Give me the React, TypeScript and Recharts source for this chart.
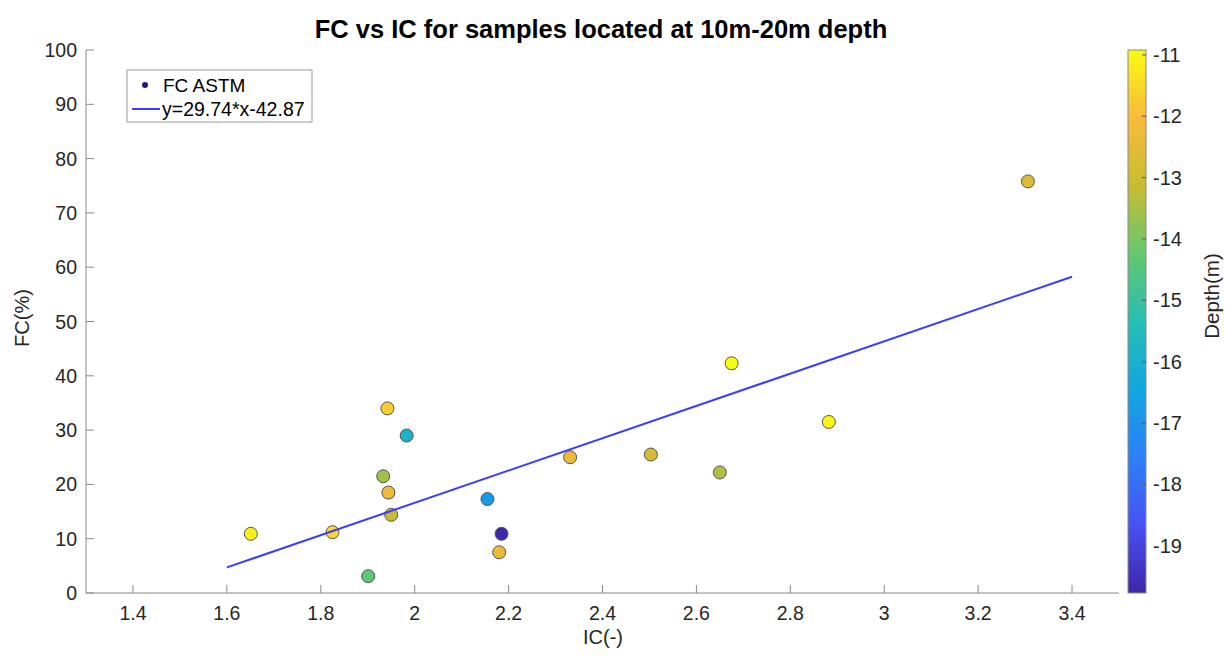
import { ScatterChart, Scatter, XAxis, YAxis } from 'recharts';

// samples: IC, FC and depth
const icValues = [1.651, 1.825, 1.901, 1.933, 1.942, 1.944, 1.95, 1.983, 2.155, 2.185, 2.18, 2.331, 2.503, 2.65, 2.675, 2.882, 3.306];
const fcValues = [10.9, 11.2, 3.1, 21.5, 34.0, 18.5, 14.4, 29.0, 17.3, 10.9, 7.5, 25.0, 25.5, 22.2, 42.3, 31.5, 75.8];
const depthValues = [-11.1, -11.5, -14.4, -13.6, -11.7, -12.3, -13.1, -15.9, -16.8, -19.77, -12.3, -12.3, -12.8, -13.4, -10.92, -11.0, -12.7];

// fitted line y=29.74*x-42.87, end points
const fitX = [1.6, 3.4];
const fitY = [4.71, 58.25];

const xTicks = [1.4, 1.6, 1.8, 2, 2.2, 2.4, 2.6, 2.8, 3, 3.2, 3.4];
const yTicks = [0, 10, 20, 30, 40, 50, 60, 70, 80, 90, 100];
const depthTicks = [-11, -12, -13, -14, -15, -16, -17, -18, -19];
const depthRange = [-19.77, -10.92];

const FONT = '"Liberation Sans", Arial, Helvetica, sans-serif';
const AXIS = '#8a8a8a';
const TEXT = '#262626';

// parula-like colormap stops (bottom -> top)
const PARULA = [
  [62, 38, 168],
  [72, 82, 244],
  [44, 128, 247],
  [18, 165, 225],
  [38, 190, 180],
  [100, 200, 110],
  [200, 188, 50],
  [250, 186, 60],
  [249, 251, 14],
];

function parula(t: number) {
  const c = Math.max(0, Math.min(1, t)) * (PARULA.length - 1);
  const i = Math.min(PARULA.length - 2, Math.floor(c));
  const f = c - i;
  const a = PARULA[i];
  const b = PARULA[i + 1];
  const mix = (k: number) => Math.round(a[k] + (b[k] - a[k]) * f);
  return `rgb(${mix(0)},${mix(1)},${mix(2)})`;
}

const depthColor = (d: number) => parula((d - depthRange[0]) / (depthRange[1] - depthRange[0]));

const samples = icValues.map((x, i) => ({ x, y: fcValues[i], color: depthColor(depthValues[i]) }));
const fitLine = fitX.map((x, i) => ({ x, y: fitY[i] }));

const fmt = (v: number) => String(Number(v.toFixed(1)));

function XTick(props: any) {
  const { x, y, payload } = props;
  return (
    <g>
      <line x1={x} x2={x} y1={y} y2={y - 8} stroke={AXIS} />
      <text x={x} y={y + 27} textAnchor="middle" fontSize={19.5} fill={TEXT} fontFamily={FONT}>
        {fmt(payload.value)}
      </text>
    </g>
  );
}

function YTick(props: any) {
  const { x, y, payload } = props;
  return (
    <g>
      <line x1={x} x2={x + 8} y1={y} y2={y} stroke={AXIS} />
      <text x={x - 9} y={y + 7} textAnchor="end" fontSize={19.5} fill={TEXT} fontFamily={FONT}>
        {payload.value}
      </text>
    </g>
  );
}

function Dot(props: any) {
  const { cx, cy, payload } = props;
  if (cx == null || cy == null) return <g />;
  return <circle cx={cx} cy={cy} r={6.5} fill={payload.color} stroke="#555" strokeWidth={1} />;
}

// colorbar geometry
const CB_X = 1128;
const CB_W = 18;
const CB_TOP = 50;
const CB_BOTTOM = 593;
const cbY = (d: number) =>
  CB_BOTTOM - ((d - depthRange[0]) / (depthRange[1] - depthRange[0])) * (CB_BOTTOM - CB_TOP);

export default function App() {
  return (
    <div
      style={{
        position: 'absolute',
        left: 0,
        top: 0,
        width: 1225,
        height: 659,
        background: '#fff',
        fontFamily: FONT,
      }}
    >
      <ScatterChart width={1225} height={659} margin={{ top: 50, right: 106, bottom: 16, left: 26 }}>
        <XAxis
          type="number"
          dataKey="x"
          domain={[1.3, 3.5]}
          ticks={xTicks}
          height={50}
          tickSize={0}
          tickMargin={0}
          tickLine={false}
          axisLine={{ stroke: AXIS }}
          tick={<XTick />}
          interval={0}
        />
        <YAxis
          type="number"
          dataKey="y"
          domain={[0, 100]}
          ticks={yTicks}
          width={60}
          tickSize={0}
          tickMargin={0}
          tickLine={false}
          axisLine={{ stroke: AXIS }}
          tick={<YTick />}
          interval={0}
        />
        <Scatter data={samples} shape={<Dot />} isAnimationActive={false} />
        <Scatter
          data={fitLine}
          line={{ stroke: '#3c3cff', strokeWidth: 2 }}
          shape={() => <g />}
          isAnimationActive={false}
        />
      </ScatterChart>

      <svg
        width={1225}
        height={659}
        style={{ position: 'absolute', left: 0, top: 0, pointerEvents: 'none' }}
      >
        <defs>
          <linearGradient id="parula" x1="0" y1="1" x2="0" y2="0">
            {PARULA.map((c, i) => (
              <stop key={i} offset={i / (PARULA.length - 1)} stopColor={`rgb(${c[0]},${c[1]},${c[2]})`} />
            ))}
          </linearGradient>
        </defs>
        <text x={601} y={38} textAnchor="middle" fontSize={25.5} fontWeight="bold" fill="#000" fontFamily={FONT}>
          FC vs IC for samples located at 10m-20m depth
        </text>
        <text x={603} y={644} textAnchor="middle" fontSize={20} fill={TEXT} fontFamily={FONT}>
          IC(-)
        </text>
        <text
          x={0}
          y={0}
          transform="translate(29,318) rotate(-90)"
          textAnchor="middle"
          fontSize={20}
          fill={TEXT}
          fontFamily={FONT}
        >
          FC(%)
        </text>

        <rect x={CB_X} y={CB_TOP} width={CB_W} height={CB_BOTTOM - CB_TOP} fill="url(#parula)" stroke={AXIS} />
        {depthTicks.map((d) => (
          <g key={d}>
            <line x1={CB_X + CB_W - 4} x2={CB_X + CB_W} y1={cbY(d)} y2={cbY(d)} stroke="#555" />
            <text x={CB_X + CB_W + 7} y={cbY(d) + 7} fontSize={20} fill={TEXT} fontFamily={FONT}>
              {d}
            </text>
          </g>
        ))}
        <text
          x={0}
          y={0}
          transform="translate(1219,296) rotate(-90)"
          textAnchor="middle"
          fontSize={20.5}
          fill={TEXT}
          fontFamily={FONT}
        >
          Depth(m)
        </text>

        <rect x={127} y={70} width={185} height={52} fill="#fff" stroke="#9a9a9a" />
        <circle cx={145} cy={85} r={3} fill="#1c1c80" />
        <text x={163} y={92} fontSize={19} fill="#000" fontFamily={FONT}>
          FC ASTM
        </text>
        <line x1={132} x2={160} y1={109} y2={109} stroke="#3c3cff" strokeWidth={2} />
        <text x={162} y={116} fontSize={19.5} fill="#000" fontFamily={FONT}>
          y=29.74*x-42.87
        </text>
      </svg>
    </div>
  );
}
